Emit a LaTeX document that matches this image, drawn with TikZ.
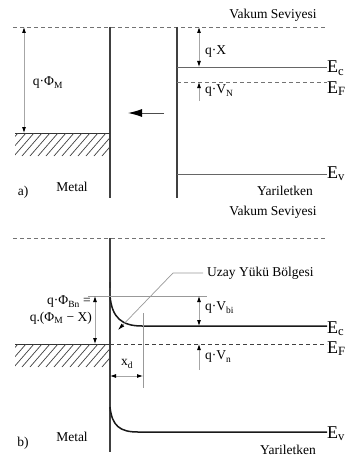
\documentclass[tikz,border=0pt]{standalone}
\usepackage{fontspec}
\setmainfont{Liberation Serif}
\usetikzlibrary{arrows.meta,positioning}

\begin{document}
\begin{tikzpicture}[
  x=1pt, y=-1pt,
  every node/.style={font=\fontsize{13.5}{15}\selectfont, inner sep=0pt},
  elabel/.style={anchor=base west, font=\fontsize{18}{20}\selectfont},
  wall/.style={draw=black!75, line width=1.3pt},
  banda/.style={draw=black!60, line width=1pt},
  bandb/.style={draw=black!90, line width=1.5pt},
  level/.style={draw=black!55, line width=0.8pt, dash pattern=on 4pt off 3pt},
  fermi/.style={draw=black!80, line width=1pt},
  hatch/.style={draw=black!75, line width=0.7pt},
  tip/.style={Latex[length=6pt, width=4pt, color=black]},
  dim/.style={draw=black!35, line width=0.8pt, {Latex[length=6pt,width=4pt,color=black]}-{Latex[length=6pt,width=4pt,color=black]}},
  updim/.style={draw=black!35, line width=0.8pt, {Latex[length=6pt,width=4pt,color=black]}-},
  thin/.style={draw=black!40, line width=0.7pt}
]
\useasboundingbox (0,0) rectangle (346,460);

% ---------- a) ----------
\node (vacA) at (273,15) {Vakum Seviyesi};
\draw[level] (13,27) -- (327,27);
\draw[wall] (110,27) -- (110,198);
\draw[wall] (177,27) -- (177,198);
\draw[fermi] (15,133) -- (110,133);
\begin{scope}
  \clip (15,133) rectangle (110,156);
  \foreach \x in {-10,-2,...,110}
    \draw[hatch] (\x,156) -- (\x+20,133);
\end{scope}
\draw[dim] (24,27) -- (24,133);
\node (phiM) at (48,83) {q·Φ\textsubscript{M}};
\draw[draw=black!70, line width=1pt, -{Latex[length=14pt, width=8pt, color=black]}] (164,113) -- (128,113);
\draw[banda] (177,67) -- (327,67);
\draw[level] (177,82) -- (327,82);
\draw[banda] (177,174) -- (327,174);
\draw[dim] (199,27) -- (199,67);
\node[anchor=west] (chi) at (205,52) {q·X};
\draw[updim] (199,82) -- (199,101);
\node[anchor=west] (vN) at (205,91) {q·V\textsubscript{N}};
\node[elabel] (ecA) at (327,73) {E\textsubscript{c}};
\node[elabel] (efA) at (327,93) {E\textsubscript{F}};
\node[elabel] (evA) at (327,178) {E\textsubscript{v}};
\node (semA) at (285,191) {Yariletken};
\node (metA) at (72,187) {Metal};
\node (labA) at (23,192) {a)};

% ---------- b) ----------
\node (vacB) at (273,212) {Vakum Seviyesi};
\draw[level] (13,238) -- (327,238);
\draw[wall] (110,238) -- (110,452);
\draw[draw=black!80, line width=2.5pt] (110,282) -- (110,288);
\draw[fermi] (15,344) -- (110,344);
\begin{scope}
  \clip (15,344) rectangle (110,367);
  \foreach \x in {-10,-2,...,110}
    \draw[hatch] (\x,367) -- (\x+20,344);
\end{scope}
\draw[level, draw=black!75] (110,344) -- (327,344);
\draw[bandb] (110,296) .. controls (112,318) and (122,326) .. (142,326) -- (327,326);
\draw[bandb] (110,407) .. controls (112,426) and (120,432) .. (138,432) -- (327,432);
\draw[thin] (88,296) -- (207,296);
\draw[dim] (95,296) -- (95,344);
\node[anchor=east] (phiB) at (91,302) {q·Φ\textsubscript{Bn} =};
\node[anchor=east] (phiMX) at (92,318) {q.(Φ\textsubscript{M} − X)};
\draw[dim] (199,296) -- (199,326);
\node[anchor=west] (vbi) at (205,308) {q·V\textsubscript{bi}};
\draw[updim] (199,344) -- (199,370);
\node[anchor=west] (vn) at (205,357) {q·V\textsubscript{n}};
\node[anchor=west] (uzay) at (207,273) {Uzay Yükü Bölgesi};
\draw[thin, -{Latex[length=7pt, width=4pt, color=black]}] (uzay.west) ++(-4,0) -- (173,273) -- (118,330);
\draw[thin] (143,313) -- (143,388);
\draw[dim] (110,376) -- (143,376);
\node (xd) at (127,364) {x\textsubscript{d}};
\node[elabel] (ecB) at (327,333) {E\textsubscript{c}};
\node[elabel] (efB) at (327,353) {E\textsubscript{F}};
\node[elabel] (evB) at (327,438) {E\textsubscript{v}};
\node (semB) at (288,450) {Yariletken};
\node (metB) at (72,437) {Metal};
\node (labB) at (23,443) {b)};
\end{tikzpicture}
\end{document}
